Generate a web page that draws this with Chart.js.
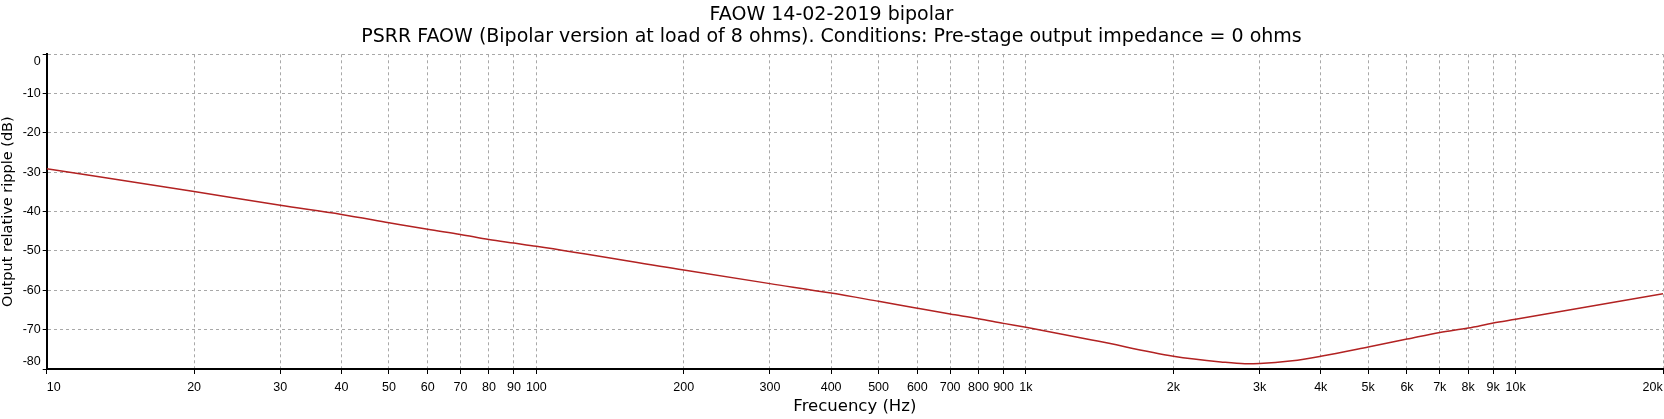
<!DOCTYPE html>
<html>
<head>
<meta charset="utf-8">
<script src="https://cdn.jsdelivr.net/npm/chart.js@4/dist/chart.umd.min.js"></script>
<style>
  html, body { margin: 0; padding: 0; background: #fff; }
  #wrap { width: 1664px; height: 419px; }
</style>
</head>
<body>
<div id="wrap"><canvas id="psrrChart"></canvas></div>
<script>
// values
const freqs = [10, 20, 30, 40, 50, 60, 70, 80, 90, 100, 200, 300, 400, 500, 600, 700, 800, 900, 1000,
               1400, 2000, 2500, 2800, 3000, 3500, 4000, 5000, 6000, 7000, 8000, 9000, 10000, 20000];
const ripple = [-29.1, -34.9, -38.4, -40.7, -42.8, -44.5, -45.8, -47.1, -48.0, -48.8, -54.85, -58.3, -60.7, -62.8, -64.55, -66.0, -67.2, -68.4, -69.4,
                -72.9, -76.75, -78.2, -78.65, -78.6, -77.9, -76.75, -74.4, -72.4, -70.7, -69.6, -68.3, -67.35, -60.85];
const xTicks = [10, 20, 30, 40, 50, 60, 70, 80, 90, 100, 200, 300, 400, 500, 600, 700, 800, 900,
                1000, 2000, 3000, 4000, 5000, 6000, 7000, 8000, 9000, 10000, 20000];
const yTicks = [0, -10, -20, -30, -40, -50, -60, -70, -80];

const FONT = "'Liberation Sans', Arial, sans-serif";
const TITLE_FONT = "'DejaVu Sans', Verdana, sans-serif";

function fmtFreq(v) {
    let s = v >= 1000 ? (v / 1000) + 'k' : String(v);
    if (v === 10) s = '    ' + s;        // keep first label inside the plot
    if (v === 20000) s = s + '      ';   // keep last label inside the canvas
    return s;
}

function fmtDb(v) {
    // end labels sit inside the plot, like the original
    if (v === 0) return ['', '0'];
    if (v === -80) return ['-80', ''];
    return String(v);
}

new Chart(document.getElementById('psrrChart'), {
    type: 'line',
    data: {
        datasets: [{
            label: 'PSRR',
            data: freqs.map((f, i) => ({ x: f, y: ripple[i] })),
            borderColor: '#b22222',
            borderWidth: 1.5,
            pointRadius: 0,
            cubicInterpolationMode: 'monotone',
            fill: false
        }]
    },
    options: {
        responsive: true,
        maintainAspectRatio: false,
        animation: false,
        layout: { padding: { top: 0, left: 0, right: 1, bottom: 0 } },
        plugins: {
            legend: { display: false },
            tooltip: { enabled: false },
            title: {
                display: true,
                text: ['FAOW 14-02-2019 bipolar',
                       'PSRR FAOW (Bipolar version at load of 8 ohms). Conditions: Pre-stage output impedance = 0 ohms'],
                color: '#000',
                font: { family: TITLE_FONT, size: 19, weight: 'normal', lineHeight: 1.16 },
                padding: { top: 4, bottom: 6.2 }
            }
        },
        scales: {
            x: {
                type: 'logarithmic',
                min: 10,
                max: 20000,
                afterBuildTicks: (scale) => { scale.ticks = xTicks.map(v => ({ value: v })); },
                afterFit: (scale) => { scale.height = 50; scale.paddingLeft = 0; scale.paddingRight = 0; },
                ticks: {
                    color: '#000',
                    font: { family: FONT, size: 12.5 },
                    maxRotation: 0,
                    autoSkip: false,
                    padding: 6,
                    callback: (v) => fmtFreq(v)
                },
                grid: { color: '#a8a8a8', lineWidth: 1, tickColor: '#000', tickLength: 5 },
                border: { color: '#000', width: 2, dash: [3, 3] },
                title: {
                    display: true,
                    text: 'Frecuency (Hz)',
                    color: '#000',
                    font: { family: TITLE_FONT, size: 16.5 },
                    padding: { top: 2, bottom: 2 }
                }
            },
            y: {
                min: -80,
                max: 0,
                afterBuildTicks: (scale) => { scale.ticks = yTicks.map(v => ({ value: v })); },
                afterFit: (scale) => { scale.width = 46.7; scale.paddingTop = 0; scale.paddingBottom = 0; },
                ticks: {
                    color: '#000',
                    font: { family: FONT, size: 12.5 },
                    padding: 2,
                    callback: (v) => fmtDb(v)
                },
                grid: { color: '#a8a8a8', lineWidth: 1, tickColor: '#000', tickLength: 4 },
                border: { color: '#000', width: 2, dash: [3, 3] },
                title: {
                    display: true,
                    text: 'Output relative ripple (dB)',
                    color: '#000',
                    font: { family: TITLE_FONT, size: 14.5 },
                    padding: { top: 0, bottom: 2 }
                }
            }
        }
    }
});
</script>
</body>
</html>
